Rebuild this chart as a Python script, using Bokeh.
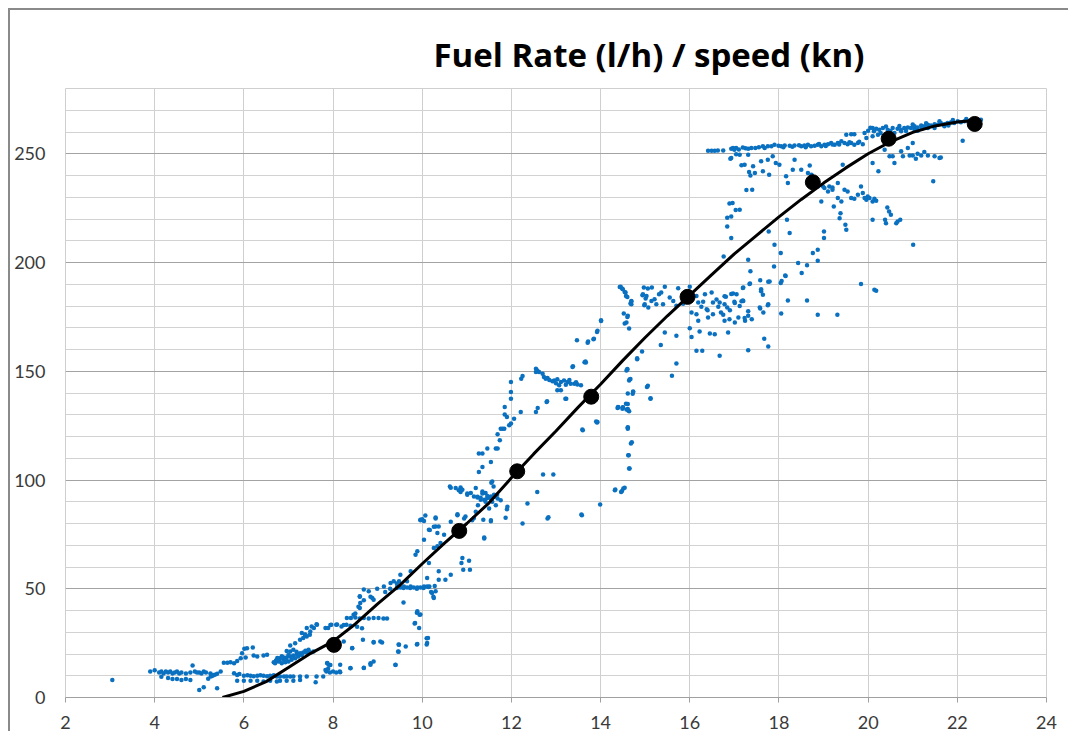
from bokeh.plotting import figure
from bokeh.models import SingleIntervalTicker
from bokeh.embed import file_html
from bokeh.resources import INLINE

TITLE = "Fuel Rate (l/h) / speed (kn)"
x_ticks_interval = 2
y_ticks_interval = 50

# measured samples (speed kn, fuel l/h), grouped by region
low_pts = [
    (3.05,8),
    (3.9,12),(4.0,12.5),(4.1,11.5),(4.15,12),(4.2,11),(4.25,12),(4.3,11.5),(4.35,12),(4.4,11),(4.45,11.5),(4.5,12),(4.55,11),(4.6,11.5),(4.7,11),(4.8,11.5),(4.9,12),(5.0,11.5),(5.1,12),
    (4.85,14.7),(4.95,11.5),(5.05,11),(5.15,11.5),(5.25,11),(5.3,10),(5.35,10.5),
    (4.15,9.5),(4.3,9),(4.4,8.5),(4.5,8.5),(4.6,8),(4.7,8.5),(4.8,8),
    (5.0,3.5),(5.1,4.7),(5.4,4.3),(5.2,8.6),(5.26,9.6),(5.3,10.4),(5.4,10.9),
    (5.48,12),(5.55,16),(5.63,16),(5.7,16.2),(5.78,15.8),(5.85,16.8),(5.93,18),(5.96,20.4),(6.01,22.4),(6.2,23),(6.04,18.4),(6.07,22.7),
    (5.78,11.2),(5.85,10.4),(5.9,10.8),(6.0,10),(6.08,10.2),(6.15,10),(6.22,9.8),(6.3,10),(6.37,10.2),(6.44,10),(6.52,9.8),(6.59,10),(6.67,10.2),(6.74,9.6),(6.81,9.6),(6.9,9.6),(6.96,9.6),(7.04,9.6),(7.11,9.6),(7.26,9.6),(7.41,9.6),(7.63,9.6),(7.78,9.6),(7.93,11.5),(8.07,11.5),(8.15,12),
    (5.85,7.7),(6.0,7.7),(6.15,7.7),(6.3,7.7),(6.44,7.3),(6.59,7.7),(6.74,7.3),(6.81,7.7),(6.96,7.7),(7.11,7.7),(7.26,8.1),(7.61,7.0),
    (6.44,19.3),(6.52,19.6),(6.22,19.3),(6.3,18.8),
    (6.67,16.2),(6.74,17.3),(6.81,18),(6.89,17.3),(6.96,18.4),(7.04,18.8),(7.11,19.3),(7.19,19.9),(7.26,20.4),(7.33,20.7),(7.41,20.7),(7.48,20.8),(7.56,21.1),(6.7,15.8),(6.78,16.5),(6.85,15.8),(6.93,16.2),(7.0,16.5),(7.07,17.3),(7.15,18),(7.22,18.8),(7.04,21.1),(7.11,21.9),(6.96,21.4),(6.72,17),(6.8,16.8),(6.88,18.5),(6.95,17),(7.0,19.5),(7.08,18.2),(7.18,21),(7.3,19.5),(7.38,21.5),(7.45,22),(6.75,18.2),(6.85,19),
    (7.04,23.9),(7.15,25),(7.26,26.5),(7.33,27.3),(7.41,28),(7.48,28.8),(7.3,29.6),(7.41,31.9),(7.52,32.6),(7.63,33.7),(7.37,29),(7.38,28.9),(7.49,30.4),(7.57,31.9),(7.64,33.5),(7.83,31.9),
    (7.89,31.9),(7.96,33.4),(8.07,33.4),(8.19,32.6),(8.3,33.4),
    (7.87,15.8),(7.89,13.2),(7.85,12),(7.87,15.9),(7.9,15.1),
]

midlow_pts = [
    (7.94,33.3),(8.09,33.6),(8.24,33.3),(8.39,33),(8.54,32.5),(8.65,31.8),
    (8.31,36.5),(8.4,36.5),(8.5,36.8),(8.6,36.3),(8.69,36.6),(8.8,36.3),(8.91,36.6),(9.02,36.6),(9.13,36.3),(9.21,36.3),
    (9.28,50),(9.43,50.4),(9.58,50.4),(9.73,50.4),(9.88,50),(10.03,50.4),(10.14,50.8),
    (9.44,51),(9.51,50.6),(9.59,51),(9.66,50.6),(9.74,51),(9.81,50.6),(9.89,50.6),(9.96,50.6),(10.04,51),(10.11,51),(10.16,51),
    (8.57,41.7),(8.69,44.7),(8.84,46.3),(8.99,50),(9.17,48.5),(9.43,52.4),(8.6,46.3),(8.5,38.6),
    (8.43,22.6),(8.91,25.3),(9.1,25.3),(9.47,24.4),(9.47,21),(9.88,24.4),(10.1,24.4),(10.1,27.2),(9.83,34),(9.88,39),(9.96,38.2),(9.4,15),(8.84,15.7),(8.69,13.7),(8.39,13.4),(8.16,11.6),(7.83,12.7),(8.0,11.9),(7.94,15),(9.58,43.7),(10.25,46.3),(10.2,48.5),(10.28,51.3),
    (9.74,58),(9.66,53.4),(9.51,56.4),(9.48,53.4),(9.29,52.6),(9.36,53.4),(9.14,51),(8.88,45.7),(8.69,49.6),(8.8,48.8),(8.6,46.5),(8.61,43.4),(8.6,41.1),(8.91,45),(8.46,38),
    (9.85,65.6),(9.89,67.2),(10.04,72.5),(10.15,77.1),(10.3,78.6),(10.37,78.6),(10.34,75.6),(10.26,68.7),(10.15,61.8),(10.37,58),(10.52,54.1),(10.64,56.4),(10.37,54.1),(10.11,54.9),(10.26,45.7),(10.22,48),(10.3,48.8),(9.96,81.7),(10.07,83.7),(10.3,82.8),(10.0,82),(10.49,74.8),(10.41,71),(10.34,69.5),
    (8.16,15.1),(8.39,13.6),(8.69,13.6),(8.84,15.1),(8.91,16.6),(9.4,15.1),(9.06,25.8),(8.91,25.5),(9.48,24.3),(9.46,21.2),(9.63,23.5),(9.89,24.6),(10.11,25.1),(10.13,27.4),(8.43,22.8),(8.67,26.6),(8.24,25.8),(9.84,34.2),(9.89,39.6),(9.94,38.1),(9.93,32),
]

mid_pts = [
    (10.62,97),(10.75,96.3),(10.86,96.6),(10.9,95.5),(10.79,84.3),(10.97,83.2),(11.01,93.2),(11.09,94),(11.16,92.4),(11.24,92),(11.31,90.9),(11.39,90.9),(11.46,91.7),(11.54,92.4),(11.61,93.2),(11.68,93.2),(11.2,96.3),(11.35,94.7),(11.42,94),(11.57,99.3),(11.6,97),(11.16,82.5),(11.37,81.7),(11.54,81),(11.39,73.6),(10.9,64.1),(10.88,61.8),(11.05,62.9),(11.07,58.7),(10.92,58.7),
    (10.64,96.4),(10.82,95.3),(10.86,94.5),(11.01,93.8),(11.24,92.3),(11.31,91.8),(11.46,92.7),(11.54,91.5),(11.61,92.3),(11.69,91.5),(11.76,90.7),(11.35,93.8),(11.42,90),(11.57,90),(11.5,86.9),(11.65,88.4),(11.25,88.4),(11.91,87.7),(11.9,86.6),(11.87,82.6),(11.55,98.7),
    (9.96,81.5),(10.04,81.1),(10.17,77),(10.26,78.5),(10.3,82.3),(10.64,80.8),(10.79,83.8),(11.2,85.4),(11.12,81.5),(11.39,73.1),(11.54,81.5),(10.94,82.3),
    (12.55,151.2),(12.58,150.4),(12.62,149.7),(12.7,148.9),(12.73,147.4),(12.81,146.9),(12.96,145.8),(13.03,146.3),(13.11,145.1),(13.18,145.8),(13.26,145.1),(13.33,144.3),(13.41,144.3),(13.48,143.9),(13.56,143.6),(12.55,149.7),(12.77,146.6),(13.03,141.3),(13.11,141.3),(13.07,143.6),(12.92,145.4),(13.38,152.3),(13.64,154.1),(12.85,146),(13.0,144.5),(13.22,143.8),(13.3,146),(13.45,145),
    (12.22,146.6),(12.25,147.8),(11.99,145.1),(11.99,140.5),(11.99,137.4),(11.85,133.6),(11.85,130.1),(11.9,129),(11.99,126),(11.95,125.2),(11.76,123.6),(11.8,123.6),(11.84,123.6),(11.69,121),(11.74,118.3),(11.65,114.5),(11.69,114.5),(11.46,114.5),(11.27,112.2),(11.35,112.2),(11.54,108.3),(11.35,106),(11.27,103.7),(12.06,128.2),(12.21,131.3),(12.55,131.3),(12.59,133.1),(12.79,135.9),(13.21,137.4),(13.37,152),(13.67,154),(13.47,164.2),(13.71,163.1),(13.84,164.7),(13.92,168.1),(14.01,173.1),(13.92,126.4),(13.6,122.9),(12.94,102.5),(12.58,94.5),(12.36,89.2),(12.81,82.3),(12.25,80),(13.58,83.8),(13.99,88.7),(13.23,137.4),(12.8,136.2),(12.71,102.5),(12.83,82.9),(13.57,84.1),(13.93,126.7),(13.59,123.2),
]

uppermid_pts = [
    (14.32,95.3),(14.46,94.5),(14.51,96.1),(14.64,105.3),(14.62,111.4),(14.68,116.8),(14.61,123.6),(14.64,131.6),(14.62,132),(14.49,132.8),(14.38,133.1),(14.57,135.1),(14.72,139.7),(14.64,145.8),(14.58,150.4),(14.82,155.5),(14.64,169.6),(14.54,171.9),(14.6,174.9),(14.52,176.5),(14.67,181.1),(14.69,182.1),(14.6,184.1),(14.54,186.4),(14.48,188),(14.43,188.7),(14.94,184.9),(15.01,183.4),(14.98,180.3),(15.06,188),(15.04,142.8),(15.12,137.4),
    (14.65,146.2),(14.73,140.5),(14.61,135),(14.4,133.5),(14.5,133.5),(14.58,132.4),(14.61,124),(14.7,117.4),(14.63,111.4),(14.65,105.3),(14.33,95.6),(14.48,94.9),(14.54,96.4),(14.6,150.8),
    (14.45,188.8),(14.5,187.7),(14.56,186.2),(14.57,184.6),(14.69,182.3),(14.69,180.8),(14.97,188.5),(14.95,185.4),(15.03,184.6),(14.99,180.8),(15.07,179.3),(15.15,188.5),(15.14,182.3),(15.21,183.1),(15.25,180.8),(15.31,185.4),(15.36,186.2),(15.4,180.8),(15.44,188.8),(15.55,183.9),(15.63,182.3),(15.7,180.1),(15.74,188.2),(16.0,188.8),(16.04,177),(16.15,184.6),(16.19,181.6),(16.15,176.2),(16.19,173.2),(16.26,179.6),(16.34,185.4),(16.38,178.5),(16.41,174.7),(16.49,186.2),(16.52,181.6),(16.52,176.2),(16.64,179.6),(16.67,181.6),(16.7,177),(16.78,180.8),(16.81,184.2),(16.84,179.3),(16.78,173.2),(16.89,173.9),(16.97,185.7),(17.01,172.4),(17.05,185.4),(17.09,174.7),(17.12,180),(17.2,182.3),(17.2,188.5),(17.24,173.2),(17.31,175.5),(17.35,190.3),(17.39,173.9),(17.57,179.3),(17.6,187.7),(17.65,177),(17.76,180.8),(17.76,191.2),(17.31,159.7),(17.67,165),(17.76,161.4),(16.67,157.1),(16.28,159.4),(16.15,159.4),(16.56,167),(16.45,167.3),(16.86,167.8),(16.22,168.3),(16.04,165.8),(16.0,169.8),(15.7,166.3),(15.44,167.8),(15.35,162.1),(15.7,153.6),(15.6,147.9),(15.06,143.3),(15.12,137.6),(14.61,139.8),(14.73,140.7),(14.67,146.4),(14.6,151),(14.82,156),(14.93,159.1),(14.58,172.4),(14.61,175.5),(14.01,173.5),(13.93,168.6),(13.85,165),(13.72,163.7),(13.66,154.5),(14.39,133.6),(14.5,133.3),(14.61,132.6),(14.61,124.2),(13.9,126.9),
    (18.06,191.5),(18.15,193.8),
    (16.4,178),(16.6,183),(16.9,178),(17.0,182),(16.3,182),(16.75,176),(15.85,181),(15.9,186),
]

upper_pts = [
    (16.41,251.4),(16.49,251.4),(16.56,251.4),(16.63,251.5),(16.75,251.5),(16.93,252.3),(16.97,252.6),(17.0,251.8),(17.04,252.6),(17.19,252.9),(17.31,252.3),(17.38,252.6),(17.47,252.6),(17.64,253.4),(17.68,252.6),(17.75,253.4),(17.83,253.4),(17.9,254.1),(17.99,253.7),(18.05,253.4),(18.13,253.8),(18.24,253.7),(18.35,253.8),(18.5,253.4),(18.57,253.8),(18.65,254.1),(18.72,253.4),(18.8,253.7),(18.87,254.1),(18.95,253.4),(19.02,254.1),(19.1,254.4),(19.17,254.9),(19.25,254.1),(19.32,254.9),(19.4,255.7),(19.47,254.9),(19.54,254.4),(19.62,254.9),(19.69,254.1),(19.77,254.9),(19.88,254.4),(19.51,258.7),(19.62,259),(19.69,259),
    (17.1,252),(17.25,252.5),(17.55,253),(18.1,253),(18.3,253.2),(18.45,253.9),(18.6,253),(18.9,254.5),(19.05,253.6),(19.2,254.3),(19.35,254.2),(19.58,255.3),(19.8,255.5),
    (19.92,259.5),(20.0,260.6),(20.1,261.8),(20.18,261.5),(20.25,261),(20.33,261.8),(20.44,261),(20.55,261.8),(20.66,261.5),(20.74,261),(20.81,261.8),(20.89,262.1),(20.96,261.8),(21.04,262.6),(21.11,262.1),(21.19,263),(21.26,262.6),(21.34,263.3),(21.41,263),(21.49,263.6),(21.56,263.3),(21.63,264.1),(21.71,263.6),(21.78,264.1),(21.86,264.5),(21.93,264.1),(22.01,264.9),(22.08,264.5),(22.16,264.9),(22.23,265.2),(22.31,264.9),(22.49,264.9),(22.53,265.6),(20.13,260.3),(20.28,259.5),(20.59,259.5),(20.74,260.3),(21.04,261),(21.34,261.8),(20.22,258.7),(19.96,257.2),(20.1,258),(21.11,260.6),(21.49,261.8),(21.71,262.6),(22.12,256),(20.05,262),(20.4,262.5),(20.7,262.8),(21.0,263.5),(21.3,264),(21.6,265),(21.9,265.5),(22.2,266),(22.4,265.8),(20.5,260.5),(20.85,260.5),(21.2,261.5),(21.8,263),
    (16.93,248),(17.04,249.8),(17.12,249.5),(17.23,245),(17.31,249.5),(17.42,244.2),(17.46,241.1),(17.6,246.5),(17.64,241.9),(17.75,247.2),(17.78,240.4),(17.86,248.8),(17.93,245.7),(18.01,245),(18.16,239.6),(18.2,236.5),(18.31,242.6),(18.35,247.2),(18.5,242.6),(18.65,241.1),(18.69,244.6),(18.87,235),(19.02,234.2),(19.13,235),(19.2,234.5),(19.32,236.5),(19.43,245),(19.47,233.5),(19.54,232.7),(19.62,229.6),(19.69,229.3),(19.77,231.2),(19.84,235),(19.88,231.9),(19.92,229.6),(19.96,228.9),(19.99,230.4),(20.03,229.6),(20.1,228.1),(20.14,229.3),(20.18,228.4),(20.1,219.7),(19.32,229.6),(19.4,228.1),(19.23,225.8),(19.38,222.7),(19.36,220.4),(19.49,217.4),(19.51,215.1),(18.95,228.1),(18.99,235),(19.1,232.7),(19.2,233.5),(18.84,235.8),(18.73,240.4),(20.1,245.7),(20.23,241.9),(20.37,251.8),(20.48,248.8),(20.55,248.8),(20.59,245.7),(20.74,251.1),(20.78,248.8),(20.89,252.6),(20.93,249.2),(21.0,254.9),(21.0,249.2),(21.07,247.7),(21.11,250),(21.19,249.2),(21.26,250.8),(21.34,249.2),(21.49,248.8),(21.6,248),(21.63,248.3),(21.46,237.3),(20.43,225.3),(20.47,223.5),(20.51,222),(20.38,219.7),(20.4,218.1),(20.63,218.1),(20.66,218.9),(20.72,219.7),(21.01,208.2),(19.84,190.1),(20.14,187.5),(20.18,187),(19.31,176),(18.87,176),(18.63,182.5),
    (17.4,233.5),(16.96,227.3),(17.12,224.3),(16.93,221.2),(16.84,216.6),(16.93,211.3),(16.76,202.8),(17.31,201.3),(17.36,196),(17.34,190.1),(17.19,188.3),(17.16,182.2),(17.23,174.5),(17.58,191.8),(17.6,186.8),(17.64,185.2),(17.79,191.3),(17.75,180.3),(17.58,178.8),(17.19,182.5),(16.78,184.5),(16.93,185.5),(17.01,181.4),(17.31,177.6),(17.9,208.2),(18.04,204.4),(17.89,198.2),(17.77,214.3),(18.04,190.6),(18.14,194),(18.18,219.7),(18.24,213.6),(18.2,182.5),(18.43,199.8),(18.51,195.2),(18.63,198.7),(18.76,204.4),(18.87,205.9),(18.87,200.8),(19.01,214.3),(19.01,211.3),(18.05,176.6),
    (16.91,247.7),(17.16,244.7),(17.33,241.6),(17.36,240),(16.84,220.6),(16.89,227.1),(17.03,224.1),(17.27,233.3),
]

# trend curve
curve_speed = [5.52, 6.0, 6.5, 7.0, 7.5, 8.0, 8.5, 9.0, 9.5, 10.0, 10.5, 11.0, 11.5, 12.0, 12.5, 13.0, 13.5, 14.0, 14.5, 15.0, 15.5, 16.0, 16.5, 17.0, 17.5, 18.0, 18.5, 19.0, 19.5, 20.0, 20.5, 21.0, 21.5, 22.0, 22.5]
curve_fuel = [0, 2.8, 7.3, 13.8, 20.3, 25.8, 33.8, 43.0, 51.7, 61.5, 71.0, 80.0, 89.5, 101.0, 112.0, 122.5, 133.5, 144.0, 155.0, 165.5, 175.5, 185.0, 194.5, 204.0, 212.5, 221.0, 229.0, 236.5, 243.5, 250.0, 255.5, 259.8, 262.8, 264.6, 265.5]

# averaged points (black dots)
avg_speed = [8.02, 10.83, 12.13, 13.79, 15.95, 18.76, 20.46, 22.39]
avg_fuel = [24.2, 76.6, 104.0, 138.3, 184.2, 236.9, 256.9, 263.7]

all_pts = low_pts + midlow_pts + mid_pts + uppermid_pts + upper_pts
speed_kn = [p[0] for p in all_pts]
fuel_lh = [p[1] for p in all_pts]

p = figure(x_range=(2, 24), y_range=(0, 280),
           frame_width=981, frame_height=609,
           min_border_left=55, min_border_right=22, min_border_top=78, min_border_bottom=30,
           output_backend="svg", toolbar_location=None, title=TITLE)
p.styles = {"margin-left": "8px", "margin-top": "8px", "margin-bottom": "-6px",
            "border-left": "2px solid #8a8a8a", "border-top": "2px solid #8a8a8a"}

p.title.text_font = "Open Sans"
p.title.text_font_style = "bold"
p.title.text_font_size = "33px"
p.title.text_color = "#000000"
p.title.align = "left"
p.title.offset = 368
p.title.standoff = 24

xt = SingleIntervalTicker(interval=x_ticks_interval, num_minor_ticks=0)
yt = SingleIntervalTicker(interval=y_ticks_interval, num_minor_ticks=5)
p.xaxis.ticker = xt
p.yaxis.ticker = yt
p.xgrid.ticker = xt
p.ygrid.ticker = yt

p.xgrid.grid_line_color = "#cfcfcf"
p.ygrid.grid_line_color = "#a3a3a3"
p.ygrid.minor_grid_line_color = "#d2d2d2"
p.outline_line_color = "#cfcfcf"
p.background_fill_color = "white"
p.border_fill_color = "white"

for ax in (p.xaxis[0], p.yaxis[0]):
    ax.major_label_text_font = "Lato"
    ax.major_label_text_font_size = "18px"
    ax.major_label_text_color = "#3a3a3a"
    ax.minor_tick_line_color = None
    ax.minor_tick_out = 0
    ax.minor_tick_in = 0

p.xaxis.axis_line_color = "#a0a0a0"
p.xaxis.major_tick_line_color = "#a0a0a0"
p.xaxis.major_tick_out = 5
p.xaxis.major_tick_in = 0
p.xaxis.major_label_standoff = 13

p.yaxis.axis_line_color = None
p.yaxis.major_tick_line_color = None
p.yaxis.major_tick_out = 0
p.yaxis.major_tick_in = 0
p.yaxis.major_label_standoff = 20

p.scatter(speed_kn, fuel_lh, marker="circle", size=4.5, fill_color="#0a70c0", line_color=None)
p.line(curve_speed, curve_fuel, line_color="black", line_width=3)
p.scatter(avg_speed, avg_fuel, marker="circle", size=15, fill_color="black", line_color="black")

open("out.html", "w").write(file_html(p, INLINE))
